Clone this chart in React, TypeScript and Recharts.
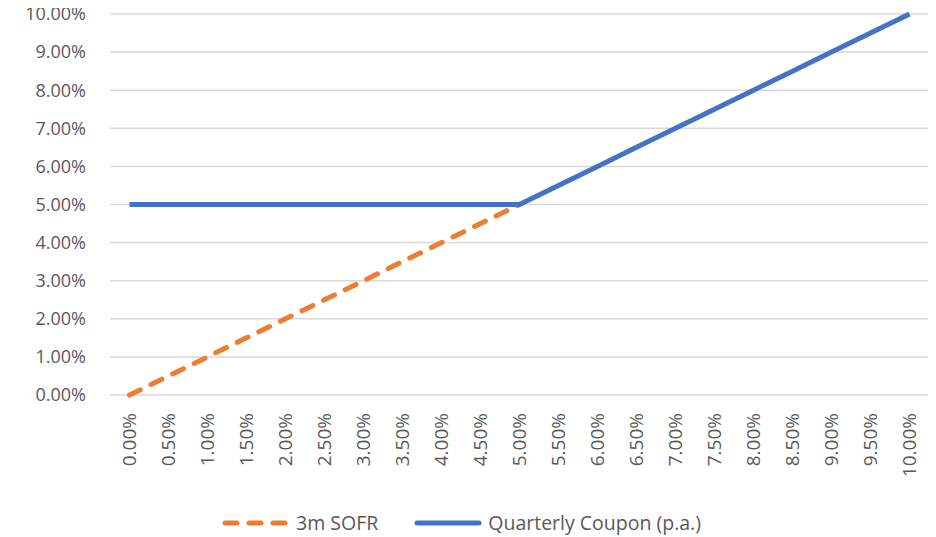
import React from "react";
import { LineChart, Line, XAxis, YAxis, CartesianGrid, Legend } from "recharts";

const categories = [
  "0.00%", "0.50%", "1.00%", "1.50%", "2.00%", "2.50%", "3.00%", "3.50%", "4.00%", "4.50%",
  "5.00%", "5.50%", "6.00%", "6.50%", "7.00%", "7.50%", "8.00%", "8.50%", "9.00%", "9.50%", "10.00%",
];
const sofr = [0, 0.5, 1, 1.5, 2, 2.5, 3, 3.5, 4, 4.5, 5, null, null, null, null, null, null, null, null, null, null];
const coupon = [5, 5, 5, 5, 5, 5, 5, 5, 5, 5, 5, 5.5, 6, 6.5, 7, 7.5, 8, 8.5, 9, 9.5, 10];
const yTicks = [0, 1, 2, 3, 4, 5, 6, 7, 8, 9, 10];

const data = categories.map((c, i) => ({ x: c, sofr: sofr[i], coupon: coupon[i] }));

const FONT = "'Open Sans', sans-serif";
const TEXT = "#595959";

const XTick = (props: any) => {
  const { x, y, payload } = props;
  return (
    <g transform={`translate(${x},${y})`}>
      <text transform="rotate(-90)" textAnchor="end" dy="0.35em" fill={TEXT} fontSize={19} fontFamily={FONT}>
        {payload.value}
      </text>
    </g>
  );
};

const YTick = (props: any) => {
  const { x, y, payload } = props;
  return (
    <text x={x} y={y} textAnchor="end" dy="0.35em" fill={TEXT} fontSize={18} fontFamily={FONT}>
      {payload.value.toFixed(2) + "%"}
    </text>
  );
};

const LegendContent = (props: any) => {
  const { payload } = props;
  return (
    <div style={{ display: "flex", justifyContent: "center", alignItems: "center", paddingTop: 14, paddingRight: 14, fontFamily: FONT, fontSize: 19.5, color: TEXT }}>
      {payload.map((p: any, i: number) => (
        <div key={p.value} style={{ display: "flex", alignItems: "center", marginLeft: i === 0 ? 0 : 36 }}>
          <svg width={68} height={10} style={{ marginRight: 6 }}>
            <line x1={3} y1={5} x2={65} y2={5} stroke={p.color} strokeWidth={5} strokeLinecap="round"
              strokeDasharray={p.dataKey === "sofr" ? "12 12" : undefined} />
          </svg>
          <span>{p.value}</span>
        </div>
      ))}
    </div>
  );
};

export default function App() {
  return (
    <div style={{ marginTop: -8 }}>
      <LineChart width={928} height={537} data={data} margin={{ top: 14, right: 7, left: 0, bottom: 0 }}>
        <CartesianGrid vertical={false} stroke="#d9d9d9" strokeWidth={1.5} />
        <XAxis dataKey="x" interval={0} axisLine={false} tickLine={false} height={100} tickSize={0} tickMargin={18}
          padding={{ left: 19.5, right: 19.5 }} tick={<XTick />} />
        <YAxis domain={[0, 10]} ticks={yTicks} width={102} axisLine={false} tickLine={false} tickSize={0} tickMargin={24}
          tick={<YTick />} />
        <Legend verticalAlign="bottom" height={42} content={<LegendContent />} />
        <Line dataKey="sofr" name="3m SOFR" stroke="#ED7D31" strokeWidth={5} strokeDasharray="12 12" strokeLinecap="round"
          dot={false} isAnimationActive={false} connectNulls={false} />
        <Line dataKey="coupon" name="Quarterly Coupon (p.a.)" stroke="#4472C4" strokeWidth={5} dot={false} isAnimationActive={false} />
      </LineChart>
    </div>
  );
}
